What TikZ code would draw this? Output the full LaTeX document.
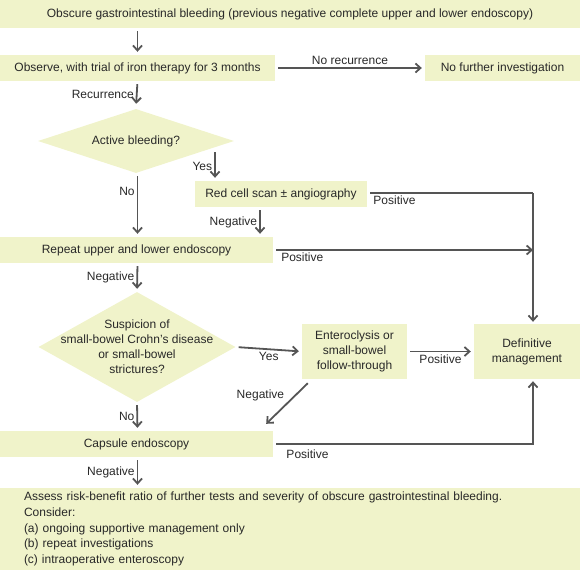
\documentclass[tikz,border=0pt]{standalone}
\usepackage{fontspec}
\setmainfont{Liberation Sans}
\usepackage{tikz}
\usetikzlibrary{arrows.meta, positioning, shapes.geometric}

\definecolor{boxfill}{RGB}{240,243,202}
\definecolor{linegray}{RGB}{85,85,85}
\definecolor{textgray}{RGB}{40,40,40}

\tikzset{
    box/.style={rectangle, fill=boxfill, inner sep=0pt, align=center, text=textgray,
        font=\fontsize{12}{15}\selectfont},
    decision/.style={diamond, fill=boxfill, inner sep=0pt},
    arr/.style={draw=linegray, line width=1.8pt, -{Straight Barb[length=5pt,width=9pt]},
        shorten <=3pt, shorten >=3pt},
    lin/.style={draw=linegray, line width=1.8pt},
    lbl/.style={text=textgray, font=\fontsize{12}{15}\selectfont, inner sep=2pt}
}

\begin{document}
\begin{tikzpicture}[x=1pt, y=-1pt]
    \useasboundingbox (0,0) rectangle (580,570);

    % 方框
    \node[box, minimum width=580pt, minimum height=28pt] (obscure) at (290,14)
        {Obscure gastrointestinal bleeding (previous negative complete upper and lower endoscopy)};
    \node[box, minimum width=275pt, minimum height=26pt] (observe) at (137.5,68)
        {Observe, with trial of iron therapy for 3 months};
    \node[box, minimum width=155pt, minimum height=26pt] (nofurther) at (502.5,68)
        {No further investigation};
    \node[decision, minimum width=196pt, minimum height=64pt] (active) at (136,141) {};
    \node[lbl] at (active) {Active bleeding?};
    \node[box, minimum width=172pt, minimum height=26pt] (redcell) at (281,194)
        {Red cell scan ± angiography};
    \node[box, minimum width=273pt, minimum height=26pt] (repeat) at (136.5,250)
        {Repeat upper and lower endoscopy};
    \node[decision, minimum width=197pt, minimum height=110pt] (suspicion) at (137,347) {};
    \node[lbl, align=center] at (suspicion)
        {Suspicion of\\small-bowel Crohn's disease\\or small-bowel\\strictures?};
    \node[box, minimum width=105pt, minimum height=55pt] (entero) at (354.5,351.5)
        {Enteroclysis or\\small-bowel\\follow-through};
    \node[box, minimum width=106pt, minimum height=55pt] (definitive) at (527,351.5)
        {Definitive\\management};
    \node[box, minimum width=273pt, minimum height=26pt] (capsule) at (136.5,444)
        {Capsule endoscopy};
    \node[box, minimum width=580pt, minimum height=82pt, text width=532pt, align=left,
        font=\fontsize{12}{15.6}\selectfont] (assess) at (290,529)
        {Assess risk-benefit ratio of further tests and severity of obscure gastrointestinal bleeding.\\
         Consider:\\
         (a) ongoing supportive management only\\
         (b) repeat investigations\\
         (c) intraoperative enteroscopy};

    % 右侧汇合线
    \coordinate (rj) at (533,193);
    \coordinate (yesstart) at (215,152);

    % 箭头
    \draw[arr] (obscure.south -| observe) -- (observe.north);
    \draw[arr] (observe.east) -- node[lbl, above] {No recurrence} (nofurther.west);
    \draw[arr] (observe.south) -- node[lbl, left] {Recurrence} ([yshift=2pt]active.north);
    \draw[arr, shorten <=0pt] (yesstart) -- node[lbl, left] {Yes} (redcell.north -| yesstart);
    \draw[arr] (active.south -| observe) -- node[lbl, left, pos=0.28] {No} (repeat.north -| observe);
    \draw[arr] (redcell.south -| 260,0) -- node[lbl, left] {Negative} (repeat.north -| 260,0);
    \draw[lin, shorten <=3pt] (redcell.east |- rj) -- node[lbl, pos=0.02, anchor=north west] {Positive} (rj);
    \draw[arr, shorten <=0pt, shorten >=2pt] (rj) -- (rj |- definitive.north);
    \draw[arr, shorten >=0pt] (repeat.east) -- node[lbl, pos=0.02, anchor=north west] {Positive} (repeat.east -| rj);
    \draw[arr] (repeat.south -| observe) -- node[lbl, left] {Negative} (suspicion.north);
    \draw[arr] (suspicion.east) -- node[lbl, below] {Yes} (entero.west);
    \draw[arr] (entero.east) -- node[lbl, below] {Positive} (definitive.west);
    \draw[arr, shorten <=0pt, shorten >=0pt] ([xshift=6pt,yshift=-4pt]entero.south west)
        -- node[lbl, midway, above left] {Negative} ([xshift=-7pt,yshift=7pt]capsule.north east);
    \draw[arr] (suspicion.south) -- node[lbl, left] {No} (capsule.north -| observe);
    \draw[arr, shorten >=2pt] (capsule.east) -| node[lbl, pos=0.02, anchor=north west, yshift=-3pt] {Positive} (rj |- definitive.south);
    \draw[arr] (capsule.south -| observe) -- node[lbl, left] {Negative} (assess.north -| observe);
\end{tikzpicture}
\end{document}
